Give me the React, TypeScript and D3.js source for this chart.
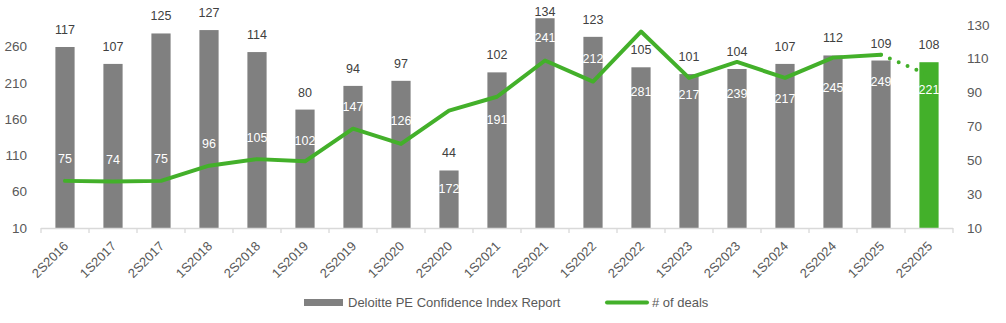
import React from "react";
import * as d3 from "d3";

const categories = ["2S2016","1S2017","2S2017","1S2018","2S2018","1S2019","2S2019","1S2020","2S2020","1S2021","2S2021","1S2022","2S2022","1S2023","2S2023","1S2024","2S2024","1S2025","2S2025"];
const confidenceIndex = [117,107,125,127,114,80,94,97,44,102,134,123,105,101,104,107,112,109,108];
const deals = [75,74,75,96,105,102,147,126,172,191,241,212,281,217,239,217,245,249,221];
const leftTicks = [10,60,110,160,210,260];
const rightTicks = [10,30,50,70,90,110,130];
// vertical placement of each "# of deals" label relative to its point (px)
const dealLabelDy = [-22,-22,-22,-22,-22,-21,-22,-23,78,23,-23,-23,60,17,32,21,30,27,14];

const W = 1006, H = 323;
const X0 = 41, X1 = 953, YB = 228, YT = 25;
const GRAY = "#808080", GREEN = "#43B02A", TXT = "#595959", AXIS = "#D9D9D9";
const FONT = "'Liberation Sans', Arial, sans-serif";

export default function App() {
  const x = d3.scaleBand<string>().domain(categories).range([X0, X1]).paddingInner(0.6).paddingOuter(0.3);
  const step = x.step();
  const yL = d3.scaleLinear().domain([10, 290]).range([YB, YT]);
  const yR = d3.scaleLinear().domain([10, 130]).range([YB, YT]);
  const cx = (c: string) => (x(c) as number) + x.bandwidth() / 2;
  const n = categories.length;
  const line = d3.line<number>().x((_, i) => cx(categories[i])).y(d => yL(d));
  const solidPath = line(deals.slice(0, n - 1)) as string;
  const dotPath = d3.line<number>().x((_, i) => cx(categories[n - 2 + i])).y(d => yL(d))(deals.slice(n - 2)) as string;
  const boundaries = d3.range(n + 1).map(i => X0 + i * step);

  return (
    <svg width={W} height={H} style={{ position: "absolute", left: 0, top: 0, fontFamily: FONT }}>
      <rect width={W} height={H} fill="#fff" />
      {/* bars */}
      {categories.map((c, i) => (
        <rect key={c} x={x(c)} y={yR(confidenceIndex[i])} width={x.bandwidth()} height={YB - yR(confidenceIndex[i])} fill={i === n - 1 ? GREEN : GRAY} />
      ))}
      {/* axis */}
      <line x1={X0} x2={X1} y1={YB + 0.5} y2={YB + 0.5} stroke={AXIS} strokeWidth={1.3} />
      {boundaries.map((b, i) => (
        <line key={i} x1={b} x2={b} y1={YB} y2={YB + 5} stroke={AXIS} strokeWidth={1.3} />
      ))}
      {/* line */}
      <path d={solidPath} fill="none" stroke={GREEN} strokeWidth={4} strokeLinejoin="round" strokeLinecap="round" />
      <path d={dotPath} fill="none" stroke={GREEN} strokeWidth={4} strokeLinecap="round" strokeDasharray="0 9.6" />
      {/* bar labels */}
      {categories.map((c, i) => (
        <text key={"b" + c} x={cx(c)} y={Math.max(15.5, yR(confidenceIndex[i]) - 13)} textAnchor="middle" fontSize={12.5} fill="#404040">{confidenceIndex[i]}</text>
      ))}
      {/* deal labels */}
      {categories.map((c, i) => (
        <text key={"d" + c} x={cx(c)} y={yL(deals[i]) + dealLabelDy[i] + 4.5} textAnchor="middle" fontSize={12.5} fill="#fff">{deals[i]}</text>
      ))}
      {/* left axis */}
      {leftTicks.map(t => (
        <text key={"l" + t} x={27} y={yL(t) + 4.5} textAnchor="end" fontSize={13.5} fill={TXT}>{t}</text>
      ))}
      {/* right axis */}
      {rightTicks.map(t => (
        <text key={"r" + t} x={967} y={yR(t) + 4.5} textAnchor="start" fontSize={13.5} fill={TXT}>{t}</text>
      ))}
      {/* category labels */}
      {categories.map(c => (
        <text key={"x" + c} transform={`translate(${cx(c) + 4},${YB + 19}) rotate(-45)`} textAnchor="end" fontSize={13} fill={TXT}>{c}</text>
      ))}
      {/* legend */}
      <rect x={304} y={299} width={39} height={7} fill={GRAY} />
      <text x={348} y={307} fontSize={13} fill={TXT}>Deloitte PE Confidence Index Report</text>
      <line x1={607} x2={647} y1={302.5} y2={302.5} stroke={GREEN} strokeWidth={4} strokeLinecap="round" />
      <text x={652} y={307} fontSize={13} fill={TXT}>{"# of deals"}</text>
    </svg>
  );
}
